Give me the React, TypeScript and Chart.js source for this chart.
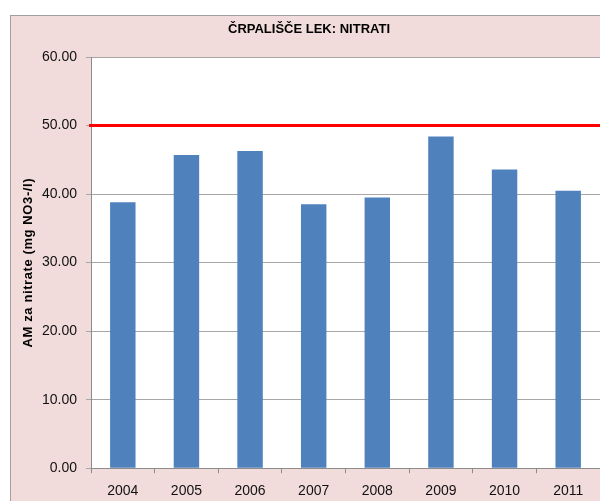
import React, { useEffect, useRef } from "react";
import { Chart, registerables } from "chart.js";

Chart.register(...registerables);

const TITLE = "ČRPALIŠČE LEK: NITRATI";
const Y_TITLE = "AM za nitrate (mg NO3-/l)";
const YEARS = ["2004", "2005", "2006", "2007", "2008", "2009", "2010", "2011"];
const NITRATE = [38.8, 45.7, 46.3, 38.5, 39.5, 48.4, 43.6, 40.5];
const LIMIT = 50;
const Y_MIN = 0;
const Y_MAX = 60;
const Y_STEP = 10;

const FONT = "'Liberation Sans', Arial, sans-serif";

const plotBg = {
  id: "plotBg",
  beforeDraw(chart: any) {
    const { ctx, chartArea } = chart;
    ctx.save();
    ctx.fillStyle = "#ffffff";
    ctx.fillRect(chartArea.left, chartArea.top, chartArea.right - chartArea.left, chartArea.bottom - chartArea.top);
    ctx.restore();
  },
};

const limitLine = {
  id: "limitLine",
  afterDatasetsDraw(chart: any) {
    const { ctx, chartArea, scales } = chart;
    const y = scales.y.getPixelForValue(LIMIT);
    ctx.save();
    ctx.strokeStyle = "#ff0000";
    ctx.lineWidth = 3;
    ctx.beginPath();
    ctx.moveTo(chartArea.left - 2, y);
    ctx.lineTo(chartArea.right + 10, y);
    ctx.stroke();
    ctx.restore();
  },
};

export default function App() {
  const ref = useRef<HTMLCanvasElement>(null);

  useEffect(() => {
    if (!ref.current) return;
    const chart = new Chart(ref.current, {
      type: "bar",
      data: {
        labels: YEARS,
        datasets: [
          {
            label: "AM",
            data: NITRATE,
            backgroundColor: "#4f81bd",
            borderWidth: 0,
            barPercentage: 0.4,
            categoryPercentage: 1,
          },
        ],
      },
      options: {
        responsive: false,
        animation: false,
        devicePixelRatio: 1,
        layout: { padding: { left: 8, right: 10, top: 0, bottom: 5 } },
        plugins: {
          legend: { display: false },
          tooltip: { enabled: false },
          title: {
            display: true,
            text: TITLE,
            color: "#000000",
            font: { family: FONT, size: 13, weight: "bold" },
            padding: { top: 7, bottom: 19.4 },
          },
        },
        scales: {
          x: {
            offset: true,
            grid: {
              display: true,
              offset: true,
              drawOnChartArea: false,
              drawTicks: true,
              tickLength: 5,
              color: "#8c8c8c",
            },
            border: { display: true, color: "#8c8c8c", width: 1 },
            ticks: {
              color: "#111111",
              padding: 10,
              font: { family: FONT, size: 14 },
              maxRotation: 0,
            },
          },
          y: {
            min: Y_MIN,
            max: Y_MAX,
            afterFit(scale: any) {
              scale.width = 73;
              if (!scale._lsPatched) {
                const orig = scale.drawTitle.bind(scale);
                scale.drawTitle = function () {
                  const c = this.ctx;
                  const prev = c.letterSpacing;
                  c.letterSpacing = "0.6px";
                  orig();
                  c.letterSpacing = prev || "0px";
                };
                scale._lsPatched = true;
              }
            },
            grid: {
              color: "#a6a6a6",
              tickLength: 5,
              drawTicks: true,
            },
            border: { display: true, color: "#8c8c8c", width: 1 },
            ticks: {
              stepSize: Y_STEP,
              color: "#111111",
              padding: 9,
              font: { family: FONT, size: 14 },
              callback: (v: any) => Number(v).toFixed(2),
            },
            title: {
              display: true,
              text: Y_TITLE,
              color: "#000000",
              font: { family: FONT, size: 13, weight: "bold" },
              padding: { top: 3, bottom: 0 },
            },
          },
        },
      },
      plugins: [plotBg, limitLine],
    });
    return () => chart.destroy();
  }, []);

  return (
    <div
      style={{
        position: "fixed",
        left: 0,
        top: 0,
        width: 600,
        height: 501,
        overflow: "hidden",
        background: "#ffffff",
      }}
    >
      <div
        style={{
          position: "absolute",
          left: 10,
          top: 15,
          width: 600,
          height: 500,
          background: "#f2dcdb",
          border: "1px solid #a0a0a0",
        }}
      >
        <canvas
          ref={ref}
          width={600}
          height={500}
          style={{ position: "absolute", left: -1, top: -1, width: 600, height: 500 }}
        />
      </div>
    </div>
  );
}
